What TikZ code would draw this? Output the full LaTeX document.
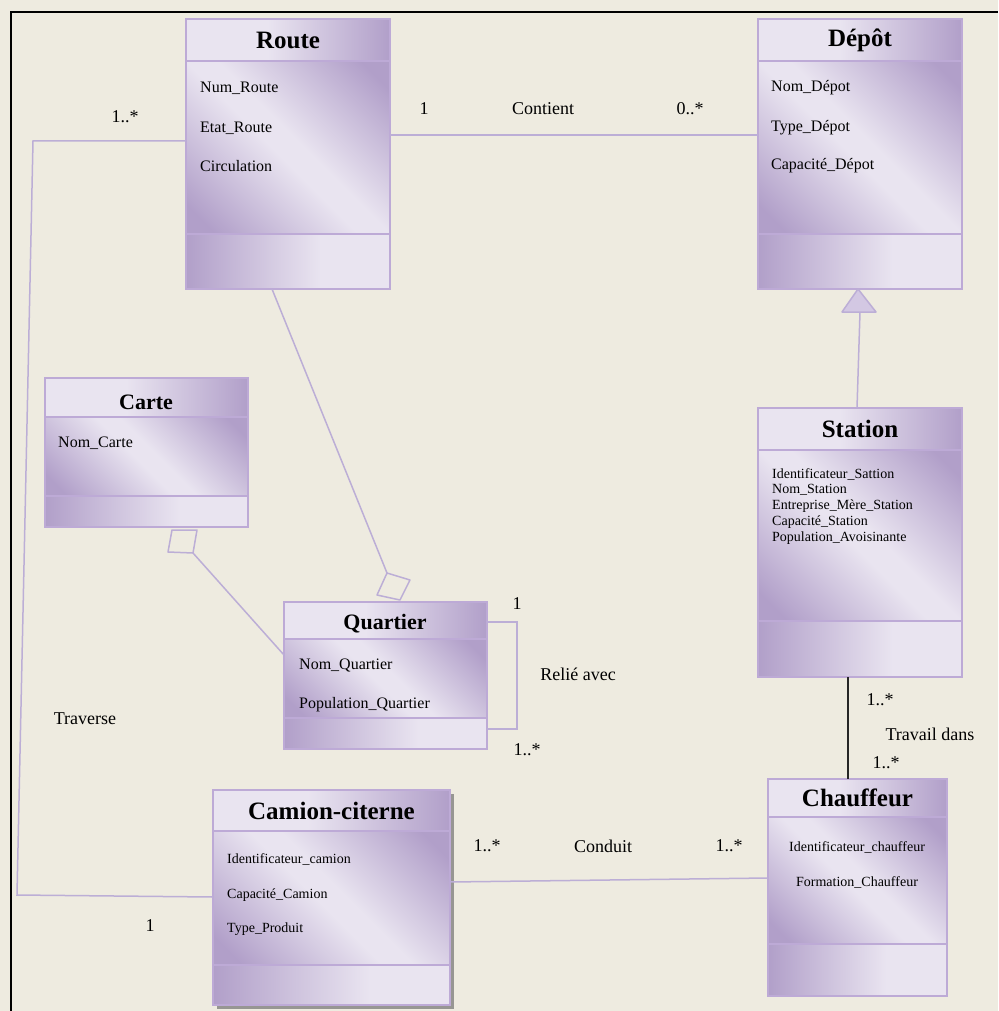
\documentclass[tikz,border=0pt]{standalone}
\usepackage{fontspec}
\setmainfont{Liberation Serif}
\usetikzlibrary{calc}
\definecolor{bgc}{HTML}{EEEBE0}
\definecolor{lavD}{HTML}{B19FC9}
\definecolor{lavL}{HTML}{E9E4F0}
\definecolor{boxc}{HTML}{BDAAD6}
\definecolor{linec}{HTML}{BCAED6}
\definecolor{trif}{HTML}{D3C8E3}
\pgfdeclarehorizontalshading{lav}{100bp}{color(0bp)=(lavD); color(20bp)=(lavD); color(47bp)=(lavL); color(53bp)=(lavL); color(80bp)=(lavD); color(100bp)=(lavD)}
\pgfdeclarehorizontalshading{lavhdr}{100bp}{color(0bp)=(lavL); color(25bp)=(lavL); color(45bp)=(lavL); color(75bp)=(lavD); color(100bp)=(lavD)}
\pgfdeclarehorizontalshading{lavbot}{100bp}{color(0bp)=(lavD); color(25bp)=(lavD); color(58bp)=(lavL); color(75bp)=(lavL); color(100bp)=(lavL)}
\newcommand{\umlbox}[8]{%
  \shade[shading=lavhdr] (#2,#3) rectangle (#4,#6);
  \shade[shading=lav, shading angle=45] (#2,#6) rectangle (#4,#7);
  \shade[shading=lavbot] (#2,#7) rectangle (#4,#5);
  \draw[sepline] (#2,#6) -- (#4,#6);
  \draw[sepline] (#2,#7) -- (#4,#7);
  \node[classbox, minimum width={(#4)-(#2)}, minimum height={(#5)-(#3)}] (#1) at ({((#2)+(#4))/2},{((#3)+(#5))/2}) {};
  \node[titlef] (#1-t) at ({((#2)+(#4))/2},{((#3)+(#6))/2}) {#8};
}
\begin{document}
\begin{tikzpicture}[x=1pt,y=-1pt,
  classbox/.style={rectangle, draw=boxc, line width=1.6pt, inner sep=0pt, outer sep=0pt},
  sepline/.style={draw=boxc, line width=1.4pt},
  titlef/.style={font=\fontsize{25}{28}\selectfont\bfseries, inner sep=0pt},
  titles/.style={font=\fontsize{22}{26}\selectfont\bfseries, inner sep=0pt},
  attr/.style={font=\fontsize{16}{18}\selectfont, anchor=west, inner sep=0pt},
  attrs/.style={font=\fontsize{14}{16}\selectfont, anchor=west, inner sep=0pt},
  attrc/.style={font=\fontsize{14}{16}\selectfont, inner sep=0pt},
  lbl/.style={font=\fontsize{18}{20}\selectfont, inner sep=0pt},
  conn/.style={draw=linec, line width=1.5pt},
  hollow/.style={draw=linec, line width=1.5pt, fill=bgc, line join=round}
]
\useasboundingbox (0,0) rectangle (998,1011);
\fill[bgc] (0,0) rectangle (998,1011);
% frame
\draw[black, line width=1.5pt] (11,1011) -- (11,12) -- (998,12);

% shadow of Camion-citerne
\fill[black!55, opacity=0.7] (217,794) rectangle (454,1009);

% classes
\umlbox{route}{186}{19}{390}{289}{61}{234}{Route}
\umlbox{depot}{758}{19}{962}{289}{61}{234}{Dépôt}
\umlbox{station}{758}{408}{962}{677}{450}{621}{Station}
\umlbox{camion}{213}{790}{450}{1005}{831}{965}{Camion-citerne}
\umlbox{chauffeur}{768}{779}{947}{996}{817}{944}{Chauffeur}
\umlbox{carte}{45}{378}{248}{527}{417}{496}{}
\node[titles] (carte-t2) at (146,402) {Carte};
\umlbox{quartier}{284}{602}{487}{749}{639}{718}{}
\node[titles] (quartier-t2) at (385,624) {Quartier};

% attributes
\node[attr] (r1) at (200,88) {Num\_Route};
\node[attr] (r2) at (200,128) {Etat\_Route};
\node[attr] (r3) at (200,166) {Circulation};
\node[attr] (d1) at (771,88) {Nom\_Dépot};
\node[attr] (d2) at (771,128) {Type\_Dépot};
\node[attr] (d3) at (771,166) {Capacité\_Dépot};
\node[attrs] (s1) at (772,474) {Identificateur\_Sattion};
\node[attrs] (s2) at (772,490) {Nom\_Station};
\node[attrs] (s3) at (772,506) {Entreprise\_Mère\_Station};
\node[attrs] (s4) at (772,522) {Capacité\_Station};
\node[attrs] (s5) at (772,538) {Population\_Avoisinante};
\node[attr] (c1) at (58,443) {Nom\_Carte};
\node[attr] (q1) at (299,665) {Nom\_Quartier};
\node[attr] (q2) at (299,705) {Population\_Quartier};
\node[attrs] (k1) at (227,859) {Identificateur\_camion};
\node[attrs] (k2) at (227,895) {Capacité\_Camion};
\node[attrs] (k3) at (227,929) {Type\_Produit};
\node[attrc] (h1) at (857,847) {Identificateur\_chauffeur};
\node[attrc] (h2) at (857,882) {Formation\_Chauffeur};

% Route -- Depot
\draw[conn] ($(route.north east)+(0,116)$) -- ($(depot.north west)+(0,116)$);
\node[lbl] (l1) at (424,109) {1};
\node[lbl] (l2) at (543,109) {Contient};
\node[lbl] (l3) at (690,109) {0..*};

% Traverse
\coordinate (tv1) at (33,141);
\coordinate (tv2) at (17,895);
\draw[conn] ($(route.north west)+(0,122)$) -- (tv1) -- (tv2) -- ($(camion.north west)+(0,107)$);
\node[lbl] (l4) at (125,117) {1..*};
\node[lbl] (l5) at (85,719) {Traverse};
\node[lbl] (l6) at (150,926) {1};

% Route -- Quartier aggregation
\coordinate (dq1) at (387,573);
\draw[conn] ($(route.south west)+(86,0)$) -- (dq1);
\draw[hollow] (dq1) -- (410,580) -- ($(quartier.north west)+(116,-2)$) -- (377,595) -- cycle;

% Carte -- Quartier aggregation
\coordinate (dc1) at (193,553);
\draw[conn] (dc1) -- ($(quartier.north west)+(0,53)$);
\draw[hollow] (dc1) -- (197,530) -- ($(carte.south west)+(127,3)$) -- (168,552) -- cycle;

% Quartier self association
\coordinate (qs1) at (517,622);
\coordinate (qs2) at (517,729);
\draw[conn] ($(quartier.north east)+(0,20)$) -- (qs1) -- (qs2) -- ($(quartier.north east)+(0,127)$);
\node[lbl] (l7) at (517,604) {1};
\node[lbl] (l8) at (578,674) {Relié avec};
\node[lbl] (l9) at (527,750) {1..*};

% Depot -- Station generalization
\coordinate (tb) at (860,312);
\draw[conn] (tb) -- ($(station.north west)+(99,0)$);
\draw[draw=linec, line width=1.5pt, fill=trif, line join=round] ($(depot.south west)+(100,0)$) -- (876,312) -- (842,312) -- cycle;

% Station -- Chauffeur
\draw[black!85, line width=1.8pt] ($(station.south west)+(90,0)$) -- ($(chauffeur.north west)+(80,0)$);
\node[lbl] (l10) at (880,700) {1..*};
\node[lbl] (l11) at (930,734) {Travail dans};
\node[lbl] (l12) at (886,763) {1..*};

% Camion -- Chauffeur
\draw[conn] ($(camion.north east)+(0,92)$) -- ($(chauffeur.north west)+(0,99)$);
\node[lbl] (l13) at (487,846) {1..*};
\node[lbl] (l14) at (603,846) {Conduit};
\node[lbl] (l15) at (729,846) {1..*};
\end{tikzpicture}
\end{document}
